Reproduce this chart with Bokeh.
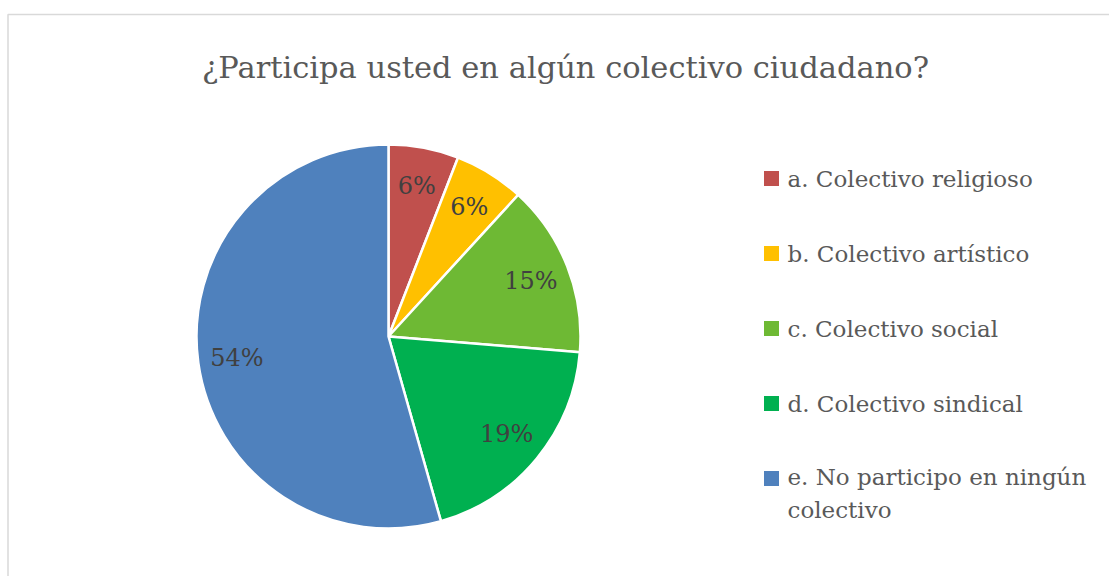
import math
import textwrap
from bokeh.plotting import figure
from bokeh.models import Range1d, Label, ColumnDataSource
from bokeh.core.properties import value
from bokeh.embed import file_html
from bokeh.resources import INLINE

title = "¿Participa usted en algún colectivo ciudadano?"
categories = [
    "a. Colectivo religioso",
    "b. Colectivo artístico",
    "c. Colectivo social",
    "d. Colectivo sindical",
    "e. No participo en ningún colectivo",
]
shares = [5.9, 5.9, 14.5, 19.3, 54.4]
pct_labels = ["6%", "6%", "15%", "19%", "54%"]
colors = ["#C0504D", "#FFC000", "#6EB934", "#00B050", "#4F81BD"]

W, H = 1109, 576
FONT = "DejaVu Serif"

p = figure(width=W, height=H, output_backend="svg", toolbar_location=None,
           x_range=Range1d(0, W), y_range=Range1d(0, H),
           min_border=0, match_aspect=False)
p.axis.visible = False
p.grid.visible = False
p.outline_line_color = None
p.background_fill_color = "white"
p.border_fill_color = "white"

# chart frame border
p.quad(left=[7.5], right=[W + 20], bottom=[-20], top=[562],
       fill_color=None, line_color="#D9D9D9", line_width=1.5)

# pie
cx, cy, R = 388, 240, 192
total = sum(shares)
starts, ends, lx, ly = [], [], [], []
cum = 0.0
for s in shares:
    a0 = math.pi / 2 - 2 * math.pi * cum / total
    cum += s
    a1 = math.pi / 2 - 2 * math.pi * cum / total
    starts.append(a0)
    ends.append(a1)
    mid = (a0 + a1) / 2
    lx.append(cx + 153 * math.cos(mid))
    ly.append(cy + 153 * math.sin(mid))

src = ColumnDataSource(dict(start=starts, end=ends, color=colors,
                            lx=lx, ly=ly, lab=pct_labels))
p.wedge(x=cx, y=cy, radius=R, start_angle="start", end_angle="end",
        direction="clock", fill_color="color", line_color="white",
        line_width=2.5, source=src)
p.text(x="lx", y="ly", text="lab", source=src, text_align="center",
       text_baseline="middle", text_color="#404040",
       text_font=value(FONT), text_font_size="24px")

# legend
lg_x, lg_y0, lg_dy = 771, 398, 75
sq_x, sq_y, txt_x, txt_y, txt = [], [], [], [], []
line_h = 30
for i, cat in enumerate(categories):
    y = lg_y0 - i * lg_dy
    wrapped = textwrap.fill(cat, width=26)
    n = wrapped.count("\n") + 1
    sq_x.append(lg_x)
    sq_y.append(y)
    txt_x.append(lg_x + 16)
    txt_y.append(y - (n - 1) * line_h / 2)
    txt.append(wrapped)

p.rect(x=sq_x, y=sq_y, width=15, height=15, fill_color=colors, line_color=None)
p.text(x=txt_x, y=txt_y, text=txt, text_align="left", text_baseline="middle",
       text_color="#595959", text_font=value(FONT), text_font_size="23px",
       text_line_height=1.3)

p.add_layout(Label(x=565, y=509, text=title, text_align="center",
                   text_baseline="alphabetic", text_color="#595959",
                   text_font=FONT, text_font_size="30.5px"))

open("out.html", "w").write(file_html(p, INLINE))
